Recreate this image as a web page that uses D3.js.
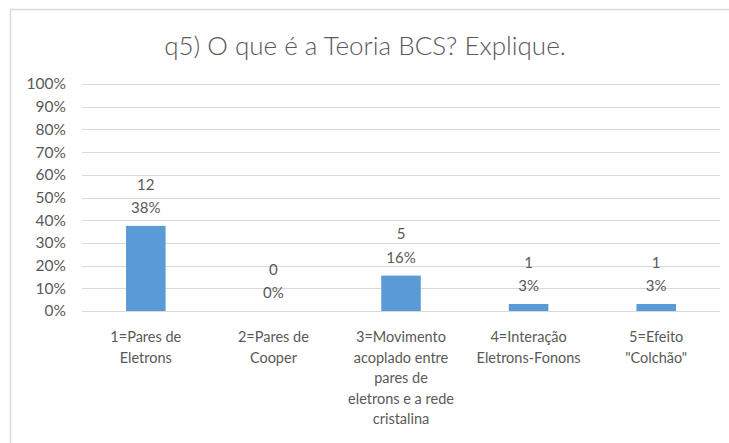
<!DOCTYPE html>
<html>
<head>
<meta charset="utf-8">
<script src="https://cdn.jsdelivr.net/npm/d3@7"></script>
<style>
  body { margin: 0; background: #fff; }
  svg text { font-family: Lato, "Open Sans", sans-serif; fill: #595959; }
</style>
</head>
<body>
<svg id="chart" width="729" height="443"></svg>
<script>
// data
const categories = ["1", "2", "3", "4", "5"];
const catLabels = [
  ["1=Pares de", "Eletrons"],
  ["2=Pares de", "Cooper"],
  ["3=Movimento", "acoplado entre", "pares de", "eletrons e a rede", "cristalina"],
  ["4=Interação", "Eletrons-Fonons"],
  ["5=Efeito", "\"Colchão\""]
];
const counts = [12, 0, 5, 1, 1];
const shares = [0.375, 0, 0.156, 0.031, 0.031];
const yTicks = [0, 0.1, 0.2, 0.3, 0.4, 0.5, 0.6, 0.7, 0.8, 0.9, 1];

const svg = d3.select("#chart");

// chart frame
svg.append("path")
  .attr("d", "M10.5,450 V9.5 H740")
  .attr("fill", "none")
  .attr("stroke", "#d9d9d9")
  .attr("stroke-width", 1.5);

svg.append("text")
  .attr("x", 365).attr("y", 55)
  .attr("text-anchor", "middle")
  .style("font-size", "26px")
  .style("font-weight", 300)
  .text("q5) O que é a Teoria BCS? Explique.");

const x = d3.scaleBand().domain(categories).range([82, 720]).paddingInner(0.69).paddingOuter(0.345);
const y = d3.scaleLinear().domain([0, 1]).range([311, 84]);

// gridlines
svg.append("g").selectAll("line").data(yTicks).enter().append("line")
  .attr("x1", 82).attr("x2", 720)
  .attr("y1", d => Math.round(y(d)) + 0.5).attr("y2", d => Math.round(y(d)) + 0.5)
  .attr("stroke", "#d9d9d9");

// y axis labels
const yAxis = d3.axisLeft(y).tickValues(yTicks).tickFormat(d3.format(".0%")).tickSize(0).tickPadding(16);
const ya = svg.append("g").attr("transform", "translate(82,0)").call(yAxis);
ya.select(".domain").remove();
ya.selectAll("text").style("font-size", "15.5px").style("font-family", "Lato, sans-serif").attr("fill", "#595959");

// bars
svg.append("g").selectAll("rect").data(shares).enter().append("rect")
  .attr("x", (d, i) => x(categories[i]))
  .attr("y", d => y(d))
  .attr("width", x.bandwidth())
  .attr("height", d => y(0) - y(d))
  .attr("fill", "#5b9bd5");

// data labels
const lab = svg.append("g").selectAll("text").data(shares).enter().append("text")
  .attr("text-anchor", "middle")
  .style("font-size", "15px")
  .attr("x", (d, i) => x(categories[i]) + x.bandwidth() / 2)
  .attr("y", d => y(d) - 13);
lab.append("tspan").attr("x", function() { return this.parentNode.getAttribute("x"); })
  .attr("dy", "-1.55em").text((d, i) => counts[i]);
lab.append("tspan").attr("x", function() { return this.parentNode.getAttribute("x"); })
  .attr("dy", "1.55em").text(d => d3.format(".0%")(d));

// category labels
const cl = svg.append("g").selectAll("text").data(catLabels).enter().append("text")
  .attr("text-anchor", "middle")
  .style("font-size", "14.5px")
  .attr("x", (d, i) => x(categories[i]) + x.bandwidth() / 2)
  .attr("y", 342);
cl.selectAll("tspan").data(d => d).enter().append("tspan")
  .attr("x", function() { return this.parentNode.getAttribute("x"); })
  .attr("dy", (d, j) => j === 0 ? 0 : 20.5)
  .text(d => d);
</script>
</body>
</html>
